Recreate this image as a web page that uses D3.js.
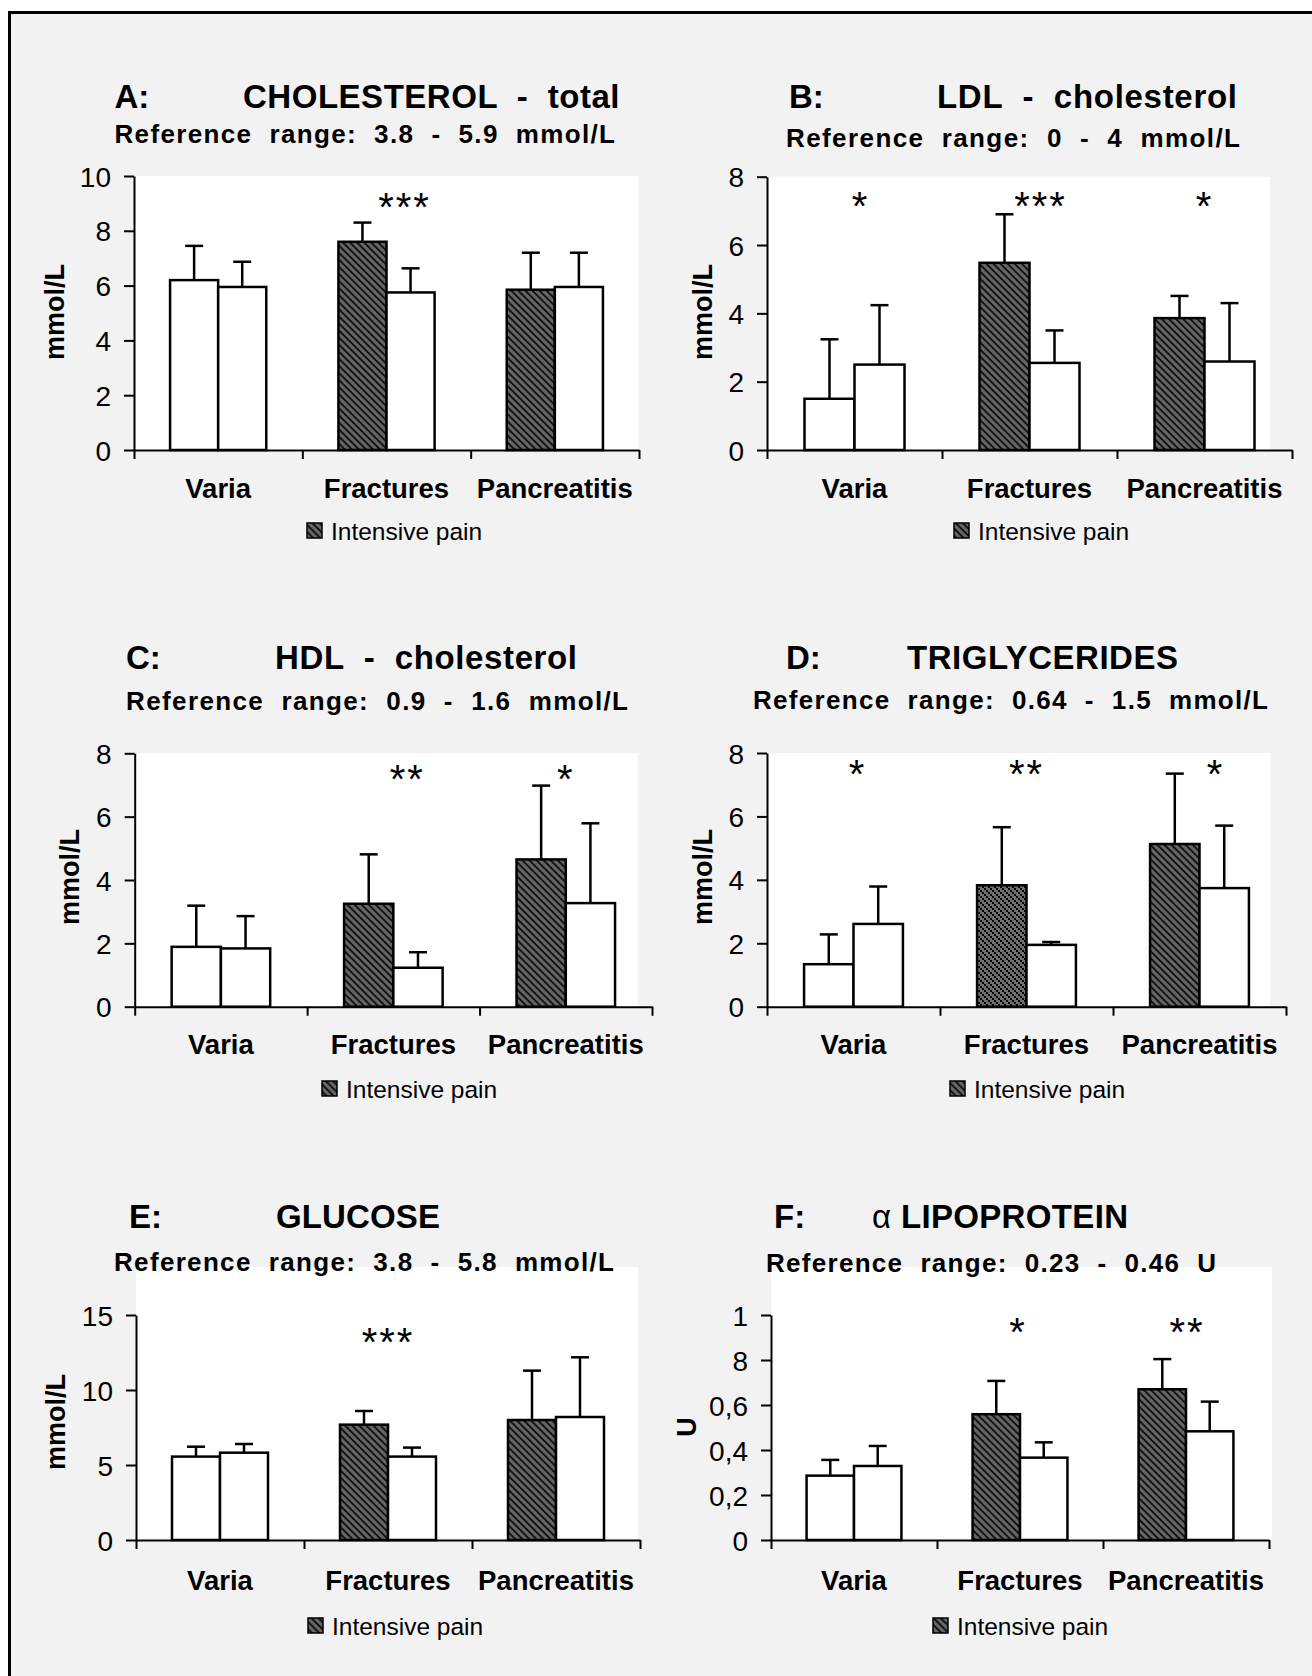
<!DOCTYPE html>
<html><head><meta charset="utf-8">
<script src="https://cdn.jsdelivr.net/npm/d3@7"></script>
<style>html,body{margin:0;padding:0;background:#fff;} svg{display:block}</style>
</head><body>
<svg id="c" width="1312" height="1676"></svg>
<script>
// ---------------- DATA ----------------
const categories = ["Varia", "Fractures", "Pancreatitis"];
const legendLabel = "Intensive pain";

// A: Cholesterol total
const cholPainMean = [6.2, 7.6, 5.85];
const cholPainSD   = [1.25, 0.7, 1.35];
const cholCtrlMean = [5.95, 5.75, 5.95];
const cholCtrlSD   = [0.92, 0.88, 1.25];
const cholStars    = ["", "***", ""];
const cholTicks    = [0, 2, 4, 6, 8, 10];
const cholTickLabels = ["0", "2", "4", "6", "8", "10"];

// B: LDL cholesterol
const ldlPainMean = [1.5, 5.48, 3.86];
const ldlPainSD   = [1.74, 1.42, 0.65];
const ldlCtrlMean = [2.5, 2.55, 2.59];
const ldlCtrlSD   = [1.74, 0.95, 1.71];
const ldlStars    = ["*", "***", "*"];
const ldlTicks    = [0, 2, 4, 6, 8];
const ldlTickLabels = ["0", "2", "4", "6", "8"];

// C: HDL cholesterol
const hdlPainMean = [1.89, 3.25, 4.65];
const hdlPainSD   = [1.3, 1.56, 2.33];
const hdlCtrlMean = [1.84, 1.23, 3.27];
const hdlCtrlSD   = [1.02, 0.49, 2.52];
const hdlStars    = ["", "**", "*"];
const hdlTicks    = [0, 2, 4, 6, 8];
const hdlTickLabels = ["0", "2", "4", "6", "8"];

// D: Triglycerides
const trigPainMean = [1.34, 3.83, 5.13];
const trigPainSD   = [0.94, 1.83, 2.22];
const trigCtrlMean = [2.61, 1.95, 3.74];
const trigCtrlSD   = [1.18, 0.09, 1.97];
const trigStars    = ["*", "**", "*"];
const trigTicks    = [0, 2, 4, 6, 8];
const trigTickLabels = ["0", "2", "4", "6", "8"];

// E: Glucose
const gluPainMean = [5.56, 7.69, 8.0];
const gluPainSD   = [0.66, 0.91, 3.29];
const gluCtrlMean = [5.82, 5.56, 8.2];
const gluCtrlSD   = [0.58, 0.6, 3.98];
const gluStars    = ["", "***", ""];
const gluTicks    = [0, 5, 10, 15];
const gluTickLabels = ["0", "5", "10", "15"];

// F: alpha lipoprotein
const lipPainMean = [0.286, 0.559, 0.670];
const lipPainSD   = [0.07, 0.148, 0.134];
const lipCtrlMean = [0.329, 0.366, 0.483];
const lipCtrlSD   = [0.089, 0.068, 0.132];
const lipStars    = ["", "*", "**"];
const lipTicks    = [0, 0.2, 0.4, 0.6, 0.8, 1];
const lipTickLabels = ["0", "0,2", "0,4", "0,6", "8", "1"];

// ---------------- STYLE / LAYOUT ----------------
const FONT = "'Liberation Sans', Arial, Helvetica, sans-serif";
const NARROW = "'Liberation Sans Narrow', 'Arial Narrow', 'Liberation Sans', sans-serif";
const fillStyle = {
  A: ["white", "url(#hatch)", "url(#hatch)"],
  B: ["white", "url(#hatch)", "url(#hatch)"],
  C: ["white", "url(#hatch)", "url(#hatch)"],
  D: ["white", "url(#check)", "url(#hatch)"],
  E: ["white", "url(#hatch)", "url(#hatch)"],
  F: ["white", "url(#hatch)", "url(#hatch)"]
};

const panels = [
  {id:"A", letter:"A:", letterX:114.5, title:"CHOLESTEROL  -  total", titleX:[243, 619.5], titleBase:108,
   sub:"Reference  range:  3.8  -  5.9  mmol/L", subX:[114.5, 615], subBase:143,
   ylab:"mmol/L", ylabX:55, ylabY:312,
   x0:134, x1:639, y0:450, yTop:176, bgX1:639, bgTop:176,
   catBase:498, legX:307, legBase:540, starY:198, starDx:[0, 18, 0],
   pm:cholPainMean, ps:cholPainSD, cm:cholCtrlMean, cs:cholCtrlSD, stars:cholStars, ticks:cholTicks, tl:cholTickLabels},
  {id:"B", letter:"B:", letterX:789, title:"LDL  -  cholesterol", titleX:[937, 1237], titleBase:108,
   sub:"Reference  range:  0  -  4  mmol/L", subX:[786, 1240], subBase:146.5,
   ylab:"mmol/L", ylabX:703, ylabY:312,
   x0:767, x1:1292, y0:450, yTop:176.7, bgX1:1270, bgTop:176.7,
   catBase:498, legX:954, legBase:540, starY:197, starDx:[6, 11, 0],
   pm:ldlPainMean, ps:ldlPainSD, cm:ldlCtrlMean, cs:ldlCtrlSD, stars:ldlStars, ticks:ldlTicks, tl:ldlTickLabels},
  {id:"C", letter:"C:", letterX:126, title:"HDL  -  cholesterol", titleX:[275, 577], titleBase:669,
   sub:"Reference  range:  0.9  -  1.6  mmol/L", subX:[126, 628], subBase:710,
   ylab:"mmol/L", ylabX:70, ylabY:877,
   x0:134.7, x1:652, y0:1006.7, yTop:753.3, bgX1:637.6, bgTop:753.3,
   catBase:1054, legX:322, legBase:1098, starY:770, starDx:[0, 14, 0],
   pm:hdlPainMean, ps:hdlPainSD, cm:hdlCtrlMean, cs:hdlCtrlSD, stars:hdlStars, ticks:hdlTicks, tl:hdlTickLabels},
  {id:"D", letter:"D:", letterX:786, title:"TRIGLYCERIDES", titleX:[907, 1178], titleBase:669,
   sub:"Reference  range:  0.64  -  1.5  mmol/L", subX:[753, 1268], subBase:709,
   ylab:"mmol/L", ylabX:703, ylabY:877,
   x0:767, x1:1286, y0:1006.7, yTop:753, bgX1:1270.5, bgTop:753,
   catBase:1054, legX:950, legBase:1098, starY:765, starDx:[4, 0, 16],
   pm:trigPainMean, ps:trigPainSD, cm:trigCtrlMean, cs:trigCtrlSD, stars:trigStars, ticks:trigTicks, tl:trigTickLabels},
  {id:"E", letter:"E:", letterX:129, title:"GLUCOSE", titleX:[276, 440], titleBase:1228,
   sub:"Reference  range:  3.8  -  5.8  mmol/L", subX:[114, 614], subBase:1271,
   ylab:"mmol/L", ylabX:56, ylabY:1422,
   x0:136, x1:640, y0:1540, yTop:1315, bgX1:638, bgTop:1267,
   catBase:1590, legX:308, legBase:1635, starY:1333, starDx:[0, 0, 0],
   pm:gluPainMean, ps:gluPainSD, cm:gluCtrlMean, cs:gluCtrlSD, stars:gluStars, ticks:gluTicks, tl:gluTickLabels},
  {id:"F", letter:"F:", letterX:774, title:null, titleX:[872, 1128], titleBase:1228,
   sub:"Reference  range:  0.23  -  0.46  U", subX:[766, 1216], subBase:1272,
   ylab:"U", ylabX:687, ylabY:1427,
   x0:771, x1:1269, y0:1540, yTop:1315, bgX1:1272, bgTop:1267,
   catBase:1590, legX:933, legBase:1635, starY:1323, starDx:[0, -2, 1],
   pm:lipPainMean, ps:lipPainSD, cm:lipCtrlMean, cs:lipCtrlSD, stars:lipStars, ticks:lipTicks, tl:lipTickLabels}
];

// ---------------- DRAW ----------------
const svg = d3.select("#c");
const defs = svg.append("defs");
const hatch = defs.append("pattern").attr("id","hatch").attr("patternUnits","userSpaceOnUse")
  .attr("width",5).attr("height",5).attr("patternTransform","rotate(-45)");
hatch.append("rect").attr("width",5).attr("height",5).attr("fill","#666");
hatch.append("rect").attr("width",2).attr("height",5).attr("fill","#151515");

const check = defs.append("pattern").attr("id","check").attr("patternUnits","userSpaceOnUse")
  .attr("width",6).attr("height",6);
check.append("rect").attr("width",6).attr("height",6).attr("fill","#6e6e6e");
[0,2,4].forEach(o => check.append("rect").attr("x",o).attr("y",o).attr("width",2).attr("height",2).attr("fill","#000"));

// background + frame
svg.append("rect").attr("width",1312).attr("height",1676).attr("fill","#fff");
svg.append("rect").attr("x",8).attr("y",11).attr("width",1304).attr("height",1665).attr("fill","#f2f2f2");
svg.append("line").attr("x1",9.5).attr("x2",9.5).attr("y1",11).attr("y2",1676).attr("stroke","#000").attr("stroke-width",3);
svg.append("line").attr("x1",8).attr("x2",1312).attr("y1",12.5).attr("y2",12.5).attr("stroke","#000").attr("stroke-width",3);

panels.forEach(p => {
  const g = svg.append("g");

  // white plot area
  g.append("rect").attr("x",p.x0).attr("y",p.bgTop).attr("width",p.bgX1 - p.x0).attr("height",p.y0 - p.bgTop).attr("fill","#fff");

  const x = d3.scaleBand().domain(categories).range([p.x0, p.x1]).paddingInner(0).paddingOuter(0);
  const xs = d3.scaleBand().domain(["pain","ctrl"]).range([0, x.bandwidth()]).paddingInner(0).paddingOuter(0.75);
  const y = d3.scaleLinear().domain([0, d3.max(p.ticks)]).range([p.y0, p.yTop]);

  const bars = [];
  categories.forEach((c, i) => {
    bars.push({cat:c, key:"pain", m:p.pm[i], s:p.ps[i], fill:fillStyle[p.id][i]});
    bars.push({cat:c, key:"ctrl", m:p.cm[i], s:p.cs[i], fill:"white"});
  });

  // error bars
  const eb = g.selectAll("g.eb").data(bars).enter().append("g").attr("class","eb");
  eb.append("line")
    .attr("x1", d => x(d.cat) + xs(d.key) + xs.bandwidth()/2)
    .attr("x2", d => x(d.cat) + xs(d.key) + xs.bandwidth()/2)
    .attr("y1", d => y(d.m)).attr("y2", d => y(d.m + d.s))
    .attr("stroke","#000").attr("stroke-width",2.5);
  eb.append("line")
    .attr("x1", d => x(d.cat) + xs(d.key) + xs.bandwidth()/2 - 9)
    .attr("x2", d => x(d.cat) + xs(d.key) + xs.bandwidth()/2 + 9)
    .attr("y1", d => y(d.m + d.s)).attr("y2", d => y(d.m + d.s))
    .attr("stroke","#000").attr("stroke-width",2.5);

  // bars
  g.selectAll("rect.bar").data(bars).enter().append("rect").attr("class","bar")
    .attr("x", d => x(d.cat) + xs(d.key))
    .attr("y", d => y(d.m))
    .attr("width", xs.bandwidth())
    .attr("height", d => p.y0 - y(d.m))
    .attr("fill", d => d.fill)
    .attr("stroke","#000").attr("stroke-width",2.5);

  // y axis
  const ya = g.append("g").attr("transform",`translate(${p.x0},0)`)
    .call(d3.axisLeft(y).tickValues(p.ticks).tickSize(10).tickSizeOuter(0).tickPadding(13)
      .tickFormat((d,i) => p.tl[i]));
  ya.select(".domain").attr("stroke","#000").attr("stroke-width",2);
  ya.selectAll(".tick line").attr("stroke","#000").attr("stroke-width",2);
  ya.selectAll(".tick text").attr("font-family",NARROW).attr("font-size",28).attr("fill","#000").attr("dy","0.36em");

  // x axis
  const xl = d3.scaleLinear().domain([0, categories.length]).range([p.x0, p.x1]);
  const xa = g.append("g").attr("transform",`translate(0,${p.y0})`)
    .call(d3.axisBottom(xl).tickValues(d3.range(categories.length + 1)).tickSize(9).tickSizeOuter(0).tickFormat(""));
  xa.select(".domain").attr("stroke","#000").attr("stroke-width",2);
  xa.selectAll(".tick line").attr("stroke","#000").attr("stroke-width",2);

  // category labels
  g.selectAll("text.cat").data(categories).enter().append("text").attr("class","cat")
    .attr("x", d => x(d) + x.bandwidth()/2).attr("y", p.catBase)
    .attr("text-anchor","middle").attr("font-family",FONT).attr("font-weight","bold").attr("font-size",27.5)
    .text(d => d);

  // significance stars
  g.selectAll("text.star").data(p.stars.map((s,i)=>({s, c:categories[i], dx:p.starDx[i]})).filter(d => d.s))
    .enter().append("text").attr("class","star")
    .attr("x", d => x(d.c) + x.bandwidth()/2 + d.dx).attr("y", p.starY + 23)
    .attr("text-anchor","middle").attr("font-family",FONT).attr("font-size",40).attr("letter-spacing",2)
    .text(d => d.s);

  // titles
  g.append("text").attr("x",p.letterX).attr("y",p.titleBase).attr("font-family",FONT).attr("font-weight","bold")
    .attr("font-size",33).text(p.letter);
  const t = g.append("text").attr("x",p.titleX[0]).attr("y",p.titleBase).attr("font-family",FONT)
    .attr("font-weight","bold").attr("font-size",33).attr("xml:space","preserve").style("white-space","pre")
    .attr("textLength",p.titleX[1]-p.titleX[0]).attr("lengthAdjust","spacing");
  if (p.title) t.text(p.title);
  else { t.append("tspan").attr("font-weight","normal").text("\u03B1 "); t.append("tspan").text("LIPOPROTEIN"); }

  g.append("text").attr("x",p.subX[0]).attr("y",p.subBase).attr("font-family",FONT).attr("font-weight","bold")
    .attr("font-size",26).attr("xml:space","preserve").style("white-space","pre")
    .attr("textLength",p.subX[1]-p.subX[0]).attr("lengthAdjust","spacing").text(p.sub);

  // y label
  g.append("text").attr("transform",`translate(${p.ylabX},${p.ylabY}) rotate(-90)`)
    .attr("text-anchor","middle").attr("dominant-baseline","central")
    .attr("font-family",FONT).attr("font-weight","bold").attr("font-size",27).text(p.ylab);

  // legend
  g.append("rect").attr("x",p.legX).attr("y",p.legBase - 17).attr("width",15).attr("height",15)
    .attr("fill","url(#hatch)").attr("stroke","#000").attr("stroke-width",1.5);
  g.append("text").attr("x",p.legX + 24).attr("y",p.legBase).attr("font-family",FONT).attr("font-size",24.5)
    .text(legendLabel);
});
</script>
</body></html>
